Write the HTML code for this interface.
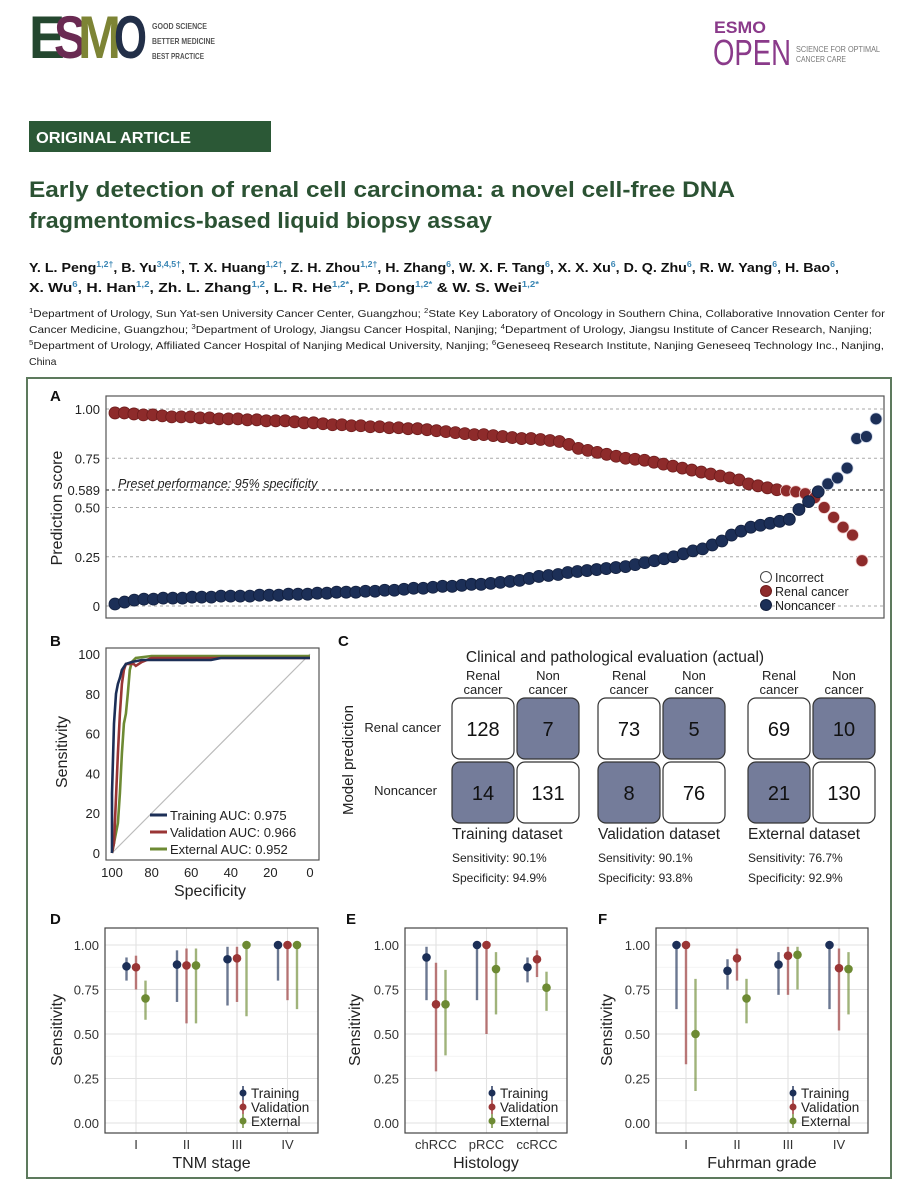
<!DOCTYPE html>
<html><head><meta charset="utf-8">
<style>
html,body{margin:0;padding:0;background:#fff;}
svg{display:block;font-family:"Liberation Sans",sans-serif;}
</style></head>
<body>
<svg id="fig" width="916" height="1182" viewBox="0 0 916 1182" xmlns="http://www.w3.org/2000/svg">
<g font-weight="bold" font-size="60">
  <text x="29" y="58" fill="#24472f" textLength="36" lengthAdjust="spacingAndGlyphs">E</text>
  <text x="54" y="58" fill="#6a2a52" textLength="32" lengthAdjust="spacingAndGlyphs">S</text>
  <text x="78" y="58" fill="#7d8435" textLength="43" lengthAdjust="spacingAndGlyphs">M</text>
  <text x="114" y="58" fill="#222f48" textLength="33" lengthAdjust="spacingAndGlyphs">O</text>
  <text x="152" y="29" font-size="8.5" fill="#555" textLength="55" lengthAdjust="spacingAndGlyphs">GOOD SCIENCE</text>
  <text x="152" y="44" font-size="8.5" fill="#555" textLength="63" lengthAdjust="spacingAndGlyphs">BETTER MEDICINE</text>
  <text x="152" y="59" font-size="8.5" fill="#555" textLength="52" lengthAdjust="spacingAndGlyphs">BEST PRACTICE</text>
</g>
<g>
  <text x="714" y="33" font-size="17" font-weight="bold" fill="#8a3a8a" textLength="52" lengthAdjust="spacingAndGlyphs">ESMO</text>
  <text x="713" y="65" font-size="36" fill="#8a3a8a" textLength="78" lengthAdjust="spacingAndGlyphs">OPEN</text>
  <text x="796" y="52" font-size="8" fill="#777" textLength="84" lengthAdjust="spacingAndGlyphs">SCIENCE FOR OPTIMAL</text>
  <text x="796" y="62" font-size="8" fill="#777" textLength="50" lengthAdjust="spacingAndGlyphs">CANCER CARE</text>
</g>
<g>
  <rect x="29" y="121" width="242" height="31" fill="#2b5836"/>
  <text x="36" y="143" font-size="16" font-weight="bold" fill="#fff" textLength="155" lengthAdjust="spacingAndGlyphs">ORIGINAL ARTICLE</text>
</g>
<g font-size="22" font-weight="bold" fill="#2b5233">
  <text x="29" y="197" textLength="706" lengthAdjust="spacingAndGlyphs">Early detection of renal cell carcinoma: a novel cell-free DNA</text>
  <text x="29" y="228" textLength="463" lengthAdjust="spacingAndGlyphs">fragmentomics-based liquid biopsy assay</text>
</g>
<g font-size="13" font-weight="bold" fill="#111">
  <text x="29" y="272" textLength="810" lengthAdjust="spacingAndGlyphs">Y. L. Peng<tspan font-size="8" fill="#3a86b4" dy="-5">1,2†</tspan><tspan dy="5">, B. Yu</tspan><tspan font-size="8" fill="#3a86b4" dy="-5">3,4,5†</tspan><tspan dy="5">, T. X. Huang</tspan><tspan font-size="8" fill="#3a86b4" dy="-5">1,2†</tspan><tspan dy="5">, Z. H. Zhou</tspan><tspan font-size="8" fill="#3a86b4" dy="-5">1,2†</tspan><tspan dy="5">, H. Zhang</tspan><tspan font-size="8" fill="#3a86b4" dy="-5">6</tspan><tspan dy="5">, W. X. F. Tang</tspan><tspan font-size="8" fill="#3a86b4" dy="-5">6</tspan><tspan dy="5">, X. X. Xu</tspan><tspan font-size="8" fill="#3a86b4" dy="-5">6</tspan><tspan dy="5">, D. Q. Zhu</tspan><tspan font-size="8" fill="#3a86b4" dy="-5">6</tspan><tspan dy="5">, R. W. Yang</tspan><tspan font-size="8" fill="#3a86b4" dy="-5">6</tspan><tspan dy="5">, H. Bao</tspan><tspan font-size="8" fill="#3a86b4" dy="-5">6</tspan><tspan dy="5">,</tspan></text>
  <text x="29" y="292" textLength="510" lengthAdjust="spacingAndGlyphs">X. Wu<tspan font-size="8" fill="#3a86b4" dy="-5">6</tspan><tspan dy="5">, H. Han</tspan><tspan font-size="8" fill="#3a86b4" dy="-5">1,2</tspan><tspan dy="5">, Zh. L. Zhang</tspan><tspan font-size="8" fill="#3a86b4" dy="-5">1,2</tspan><tspan dy="5">, L. R. He</tspan><tspan font-size="8" fill="#3a86b4" dy="-5">1,2*</tspan><tspan dy="5">, P. Dong</tspan><tspan font-size="8" fill="#3a86b4" dy="-5">1,2*</tspan><tspan dy="5"> &amp; W. S. Wei</tspan><tspan font-size="8" fill="#3a86b4" dy="-5">1,2*</tspan></text>
</g>
<g font-size="10.5" fill="#222">
  <text x="29" y="317" textLength="856" lengthAdjust="spacingAndGlyphs"><tspan font-size="7" dy="-4">1</tspan><tspan dy="4">Department of Urology, Sun Yat-sen University Cancer Center, Guangzhou; </tspan><tspan font-size="7" dy="-4">2</tspan><tspan dy="4">State Key Laboratory of Oncology in Southern China, Collaborative Innovation Center for</tspan></text>
  <text x="29" y="333" textLength="843" lengthAdjust="spacingAndGlyphs">Cancer Medicine, Guangzhou; <tspan font-size="7" dy="-4">3</tspan><tspan dy="4">Department of Urology, Jiangsu Cancer Hospital, Nanjing; </tspan><tspan font-size="7" dy="-4">4</tspan><tspan dy="4">Department of Urology, Jiangsu Institute of Cancer Research, Nanjing;</tspan></text>
  <text x="29" y="349" textLength="855" lengthAdjust="spacingAndGlyphs"><tspan font-size="7" dy="-4">5</tspan><tspan dy="4">Department of Urology, Affiliated Cancer Hospital of Nanjing Medical University, Nanjing; </tspan><tspan font-size="7" dy="-4">6</tspan><tspan dy="4">Geneseeq Research Institute, Nanjing Geneseeq Technology Inc., Nanjing,</tspan></text>
  <text x="29" y="365">China</text>
</g>
<rect x="27" y="378" width="864" height="800" fill="none" stroke="#5d7a5d" stroke-width="2"/>
<g font-weight="bold" font-size="15" fill="#111">
  <text x="50" y="401">A</text><text x="50" y="646">B</text><text x="338" y="646">C</text>
  <text x="50" y="924">D</text><text x="346" y="924">E</text><text x="598" y="924">F</text>
</g>
</svg>
<script>
const NS="http://www.w3.org/2000/svg";
const svg=document.getElementById('fig');
function el(tag,attrs,parent,txt){const e=document.createElementNS(NS,tag);for(const k in attrs)e.setAttribute(k,attrs[k]);if(txt!==undefined)e.textContent=txt;(parent||svg).appendChild(e);return e;}

/* ===== Panel A data ===== */
const renalScores=[0.98,0.98,0.975,0.97,0.97,0.965,0.96,0.96,0.96,0.955,
0.955,0.95,0.95,0.95,0.945,0.945,0.94,0.94,0.94,0.935,
0.93,0.93,0.925,0.92,0.92,0.915,0.915,0.91,0.91,0.905,
0.905,0.9,0.9,0.895,0.89,0.885,0.88,0.875,0.87,0.87,
0.865,0.86,0.855,0.85,0.85,0.845,0.84,0.835,0.82,0.8,
0.79,0.78,0.77,0.76,0.75,0.745,0.74,0.73,0.72,0.71,
0.7,0.69,0.68,0.67,0.66,0.65,0.64,0.62,0.61,0.6,
0.59,0.585,0.58,0.57,0.55,0.5,0.45,0.40,0.36,0.23];
const noncancerScores=[0.01,0.02,0.03,0.035,0.035,0.04,0.04,0.04,0.045,0.045,
0.045,0.05,0.05,0.05,0.05,0.055,0.055,0.055,0.06,0.06,
0.06,0.065,0.065,0.07,0.07,0.07,0.075,0.075,0.08,0.08,
0.085,0.09,0.09,0.095,0.1,0.1,0.105,0.11,0.11,0.115,
0.12,0.125,0.13,0.14,0.15,0.155,0.16,0.17,0.175,0.18,
0.185,0.19,0.195,0.2,0.21,0.22,0.23,0.24,0.25,0.265,
0.28,0.29,0.31,0.33,0.36,0.38,0.40,0.41,0.42,0.43,
0.44,0.49,0.53,0.58,0.62,0.65,0.70,0.85,0.86,0.95];
const aTicks=[1,0.75,0.589,0.5,0.25,0];
const aTickLabels=["1.00","0.75","0.589","0.50","0.25","0"];
const cutoff=0.589;

const ya=v=>606-v*197;
const xRenal=i=>115+i*(862-115)/(renalScores.length-1);
const xNon=i=>115+i*(876-115)/(noncancerScores.length-1);
const gA=el('g',{});


aTicks.forEach((t,i)=>{
  const ln=el('line',{x1:106,x2:884,y1:ya(t),y2:ya(t),stroke:t===cutoff?'#444':'#aaa','stroke-dasharray':'3,3','stroke-width':t===cutoff?1.3:1},gA);
  
  
  const tx=el('text',{x:100,y:ya(t)+5,'text-anchor':'end','font-size':13,fill:'#222'},gA,aTickLabels[i]);
  
  
});
const boxA=el('rect',{x:106,y:396,width:778,height:222,fill:'none',stroke:'#555','stroke-width':1.2},gA);


const ylA=el('text',{x:0,y:0,transform:'translate(62,508) rotate(-90)','text-anchor':'middle','font-size':16,fill:'#222'},gA,'Prediction score');


const pre=el('text',{x:118,y:ya(cutoff)-2,'font-size':12.5,'font-style':'italic',fill:'#222'},gA,'Preset performance: 95% specificity');


renalScores.forEach((v,i)=>{
  const c=el('circle',{cx:xRenal(i),cy:ya(v),r:6,fill:'#8e2b2b',stroke:v<cutoff?'#f3d3d3':'#6e1c1c','stroke-width':0.8},gA);
  
  
});
noncancerScores.forEach((v,i)=>{
  const c=el('circle',{cx:xNon(i),cy:ya(v),r:6,fill:'#1c2f57',stroke:v>cutoff?'#cfd8ea':'#121f3d','stroke-width':0.8},gA);
  
  
});
const legA=[['Incorrect','#fff','#444'],['Renal cancer','#8e2b2b','#6e1c1c'],['Noncancer','#1c2f57','#121f3d']];
legA.forEach((d,i)=>{
  const c=el('circle',{cx:766,cy:577+i*14,r:5.5,fill:d[1],stroke:d[2]},gA);
  
  
  const t=el('text',{x:775,y:582+i*14,'font-size':12.5,fill:'#222'},gA,d[0]);
  
  
});

/* ===== Panel B data (ROC) ===== */
const rocNames=["Training AUC: 0.975","Validation AUC: 0.966","External AUC: 0.952"];
const rocColors=["#1c2f57","#9a3535","#6d8a33"];
const trainSpec=[100,100,99,98,97,96,95,93,90,85,80,70,50,45,0];
const trainSens=[0,30,65,80,85,88,92,95,96,97,97,97,97,98,98];
const validSpec=[100,99,98,97,96,95,94,93,89,88,85,80,0];
const validSens=[0,5,28,50,70,85,92,95,95,94,96,98,98];
const extSpec=[100,99,97,96,95,94,93,92,91,90,88,80,0];
const extSens=[0,5,15,30,50,65,70,80,92,96,98,99,99];
const bTicks=[0,20,40,60,80,100];
const xb=s=>112+(100-s)*1.98;
const yb=v=>853-v*1.99;
const gB=el('g',{});


const boxB=el('rect',{x:106,y:648,width:213,height:212,fill:'#fff',stroke:'#555','stroke-width':1.2},gB);


const diag=el('line',{x1:xb(100),y1:yb(0),x2:xb(0),y2:yb(100),stroke:'#bbb','stroke-width':1.2},gB);


bTicks.forEach(t=>{
  const a=el('text',{x:100,y:yb(t)+5,'text-anchor':'end','font-size':13,fill:'#222'},gB,String(t));
  
  
  const b=el('text',{x:xb(t),y:877,'text-anchor':'middle','font-size':13,fill:'#222'},gB,String(t));
  
  
});
const rocSets=[[trainSpec,trainSens],[validSpec,validSens],[extSpec,extSens]];
[2,1,0].forEach(k=>{
  const [sp,se]=rocSets[k];
  let d='';
  sp.forEach((s,i)=>{d+=(i?'L':'M')+xb(s).toFixed(1)+','+yb(se[i]).toFixed(1);});
  const p=el('path',{d:d,fill:'none',stroke:rocColors[k],'stroke-width':2.6},gB);
  
  
});
rocNames.forEach((n,i)=>{
  const l=el('line',{x1:150,x2:167,y1:815+i*17,y2:815+i*17,stroke:rocColors[i],'stroke-width':3},gB);
  
  
  const t=el('text',{x:170,y:820+i*17,'font-size':13,fill:'#222'},gB,n);
  
  
});
const xtB=el('text',{x:210,y:896,'text-anchor':'middle','font-size':16,fill:'#222'},gB,'Specificity');


const ytB=el('text',{x:0,y:0,transform:'translate(67,752) rotate(-90)','text-anchor':'middle','font-size':16,fill:'#222'},gB,'Sensitivity');



/* ===== Panel C data (confusion matrices) ===== */
const datasetNames=["Training dataset","Validation dataset","External dataset"];
const tp=[128,73,69];
const fp=[7,5,10];
const fn=[14,8,21];
const tn=[131,76,130];
const sensLabels=["90.1%","90.1%","76.7%"];
const specLabels=["94.9%","93.8%","92.9%"];
const groupX=[452,598,748];
const gC=el('g',{});


const ct=el('text',{x:615,y:662,'text-anchor':'middle','font-size':15.5,fill:'#222'},gC,'Clinical and pathological evaluation (actual)');


const mp=el('text',{x:0,y:0,transform:'translate(353,760) rotate(-90)','text-anchor':'middle','font-size':15,fill:'#222'},gC,'Model prediction');


const rl1=el('text',{x:441,y:732,'text-anchor':'end','font-size':13,fill:'#222'},gC,'Renal cancer');


const rl2=el('text',{x:437,y:795,'text-anchor':'end','font-size':13,fill:'#222'},gC,'Noncancer');


datasetNames.forEach((nm,g)=>{
  const x0=groupX[g];
  const cells=[[tp[g],0,0,false],[fp[g],1,0,true],[fn[g],0,1,true],[tn[g],1,1,false]];
  [['Renal','cancer'],['Non','cancer']].forEach((h,c)=>{
    const cx=x0+31+c*65;
    const a=el('text',{x:cx,y:680,'text-anchor':'middle','font-size':13,fill:'#222'},gC,h[0]);
    
    
    const b=el('text',{x:cx,y:694,'text-anchor':'middle','font-size':13,fill:'#222'},gC,h[1]);
    
    
  });
  cells.forEach(([v,c,r,dark])=>{
    const rx=x0+c*65, ry=698+r*64;
    const rc=el('rect',{x:rx,y:ry,width:62,height:61,rx:8,fill:dark?'#747c9a':'#fff',stroke:'#333','stroke-width':1.2},gC);
    
    
    const t=el('text',{x:rx+31,y:ry+38,'text-anchor':'middle','font-size':20,fill:'#111'},gC,String(v));
    
    
  });
  const dn=el('text',{x:x0,y:839,'font-size':15.5,fill:'#222'},gC,nm);
  
  
  const s1=el('text',{x:x0,y:862,'font-size':12,fill:'#222'},gC,'Sensitivity: '+sensLabels[g]);
  
  
  const s2=el('text',{x:x0,y:882,'font-size':12,fill:'#222'},gC,'Specificity: '+specLabels[g]);
  
  
});

/* ===== Panels D/E/F data (sensitivity with CI) ===== */
const seriesNames=["Training","Validation","External"];
const seriesColors=["#1c2f57","#9a3535","#6d8a33"];
const dfTicks=[0,0.25,0.5,0.75,1];
const dfTickLabels=["0.00","0.25","0.50","0.75","1.00"];
const tnmCats=["I","II","III","IV"];
const tnmEst=[[0.88,0.89,0.92,1.0],[0.875,0.885,0.925,1.0],[0.70,0.885,1.0,1.0]];
const tnmLo=[[0.80,0.68,0.66,0.80],[0.75,0.56,0.68,0.69],[0.58,0.56,0.60,0.64]];
const tnmHi=[[0.93,0.97,0.99,1.0],[0.94,0.98,0.99,1.0],[0.80,0.98,1.0,1.0]];
const histCats=["chRCC","pRCC","ccRCC"];
const histEst=[[0.93,1.0,0.875],[0.667,1.0,0.92],[0.667,0.865,0.76]];
const histLo=[[0.69,0.69,0.79],[0.29,0.50,0.82],[0.38,0.61,0.63]];
const histHi=[[0.99,1.0,0.93],[0.90,1.0,0.97],[0.86,0.96,0.85]];
const fuhrCats=["I","II","III","IV"];
const fuhrEst=[[1.0,0.855,0.89,1.0],[1.0,0.925,0.94,0.87],[0.50,0.70,0.945,0.865]];
const fuhrLo=[[0.64,0.75,0.72,0.64],[0.33,0.80,0.72,0.52],[0.18,0.56,0.75,0.61]];
const fuhrHi=[[1.0,0.92,0.96,1.0],[1.0,0.98,0.99,0.98],[0.81,0.81,0.99,0.96]];

function ciPanel(name,left,right,firstCat,catStep,cats,est,lo,hi,xtitle,ylabX){
  const g=el('g',{});
  
  
  const yv=v=>1123-v*178;
  const xc=i=>firstCat+i*catStep;
  el('rect',{x:left,y:928,width:right-left,height:205,fill:'#fff'},g);
  for(let k=0;k<9;k++){
    const yy=yv(k*0.125);
    const gl=el('line',{x1:left,x2:right,y1:yy,y2:yy,stroke:k%2?'#f0f0f0':'#e2e2e2','stroke-width':k%2?0.8:1.1},g);
    
    
  }
  cats.forEach((c,i)=>{
    const vl=el('line',{x1:xc(i),x2:xc(i),y1:928,y2:1133,stroke:'#e2e2e2','stroke-width':1.1},g);
    
    
    const t=el('text',{x:xc(i),y:1149,'text-anchor':'middle','font-size':13,fill:'#333'},g,c);
    
    
  });
  dfTicks.forEach((t,i)=>{
    const tx=el('text',{x:left-6,y:yv(t)+5,'text-anchor':'end','font-size':13,fill:'#333'},g,dfTickLabels[i]);
    
    
  });
  const fr=el('rect',{x:left,y:928,width:right-left,height:205,fill:'none',stroke:'#444','stroke-width':1.2},g);
  
  
  seriesNames.forEach((s,k)=>{
    cats.forEach((c,i)=>{
      const x=xc(i)+(k-1)*9.5;
      const ln=el('line',{x1:x,x2:x,y1:yv(lo[k][i]),y2:yv(hi[k][i]),stroke:seriesColors[k],'stroke-opacity':0.65,'stroke-width':2.4},g);
      
      
      const pt=el('circle',{cx:x,cy:yv(est[k][i]),r:4.3,fill:seriesColors[k]},g);
      
      
    });
    const lx=right-75, ly=1093+k*14;
    const ll=el('line',{x1:lx,x2:lx,y1:ly-7,y2:ly+7,stroke:seriesColors[k],'stroke-width':2,'stroke-opacity':0.7},g);
    
    
    const lc=el('circle',{cx:lx,cy:ly,r:3.5,fill:seriesColors[k]},g);
    
    
    const lt=el('text',{x:lx+8,y:ly+5,'font-size':13.5,fill:'#222'},g,s);
    
    
  });
  const xt=el('text',{x:(left+right)/2,y:1168,'text-anchor':'middle','font-size':16,fill:'#222'},g,xtitle);
  
  
  const yt=el('text',{x:0,y:0,transform:'translate('+ylabX+',1030) rotate(-90)','text-anchor':'middle','font-size':16,fill:'#222'},g,'Sensitivity');
  
  
}
ciPanel('panel-d-tnm-stage',105,318,136,50.5,tnmCats,tnmEst,tnmLo,tnmHi,'TNM stage',62);
ciPanel('panel-e-histology',405,567,436,50.5,histCats,histEst,histLo,histHi,'Histology',360);
ciPanel('panel-f-fuhrman-grade',656,868,686,51,fuhrCats,fuhrEst,fuhrLo,fuhrHi,'Fuhrman grade',612);
</script>
</body></html>
